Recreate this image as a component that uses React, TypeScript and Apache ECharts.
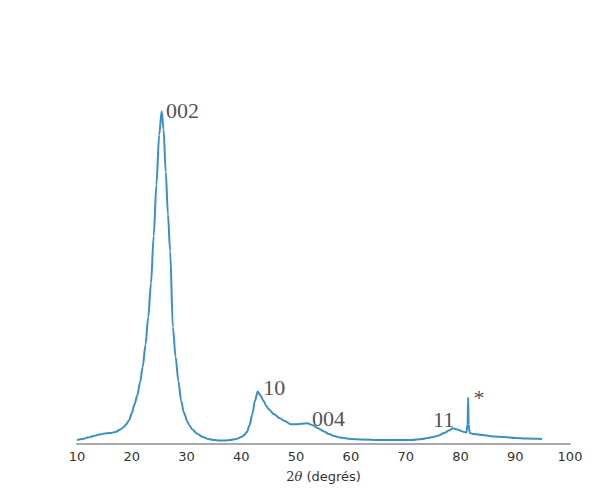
import React, { useEffect, useRef } from "react";
import * as echarts from "echarts";

// 2θ (degrees) and intensity (arbitrary units)
const twoTheta = [
  10, 11, 12, 13, 14, 15, 16, 17, 18, 18.5, 19, 19.5, 20, 20.5, 21, 21.5, 22, 22.5, 23, 23.5,
  24, 24.5, 25, 25.45, 25.8, 26.2, 26.6, 27, 27.5, 28, 28.5, 29, 29.5, 29.8, 30, 30.5, 31, 32,
  33, 34, 35, 36, 37, 38, 39, 40, 40.5, 41, 41.5, 42, 42.5, 43, 43.5, 44, 44.5, 45, 46, 47, 48,
  49, 50, 51, 52, 53, 54, 55, 56, 57, 58, 60, 62, 65, 68, 71, 73, 74, 75, 76, 77, 78, 78.6,
  79.5, 80.5, 81.1, 81.3, 81.4, 81.5, 81.7, 82.5, 84, 86, 88, 90, 92, 94.9,
];
const intensity = [
  4, 5, 6.5, 8, 9.5, 10.5, 11, 12, 15, 17, 20, 24, 31, 40, 49, 62, 78, 100, 128, 162,
  210, 262, 312, 336, 318, 275, 232, 195, 118, 88, 64, 44, 32, 28, 24, 19, 15, 10,
  7, 5, 4, 3.5, 3.5, 4, 5, 7, 9, 12, 19, 30, 44, 53, 49, 44, 39, 35, 30, 26, 23,
  20, 20, 20.5, 21, 19, 16, 13, 10, 8, 6.5, 5, 4.5, 4, 4, 4, 5, 6, 7, 8.5, 11, 14, 16,
  14.5, 12.5, 11.5, 20, 47, 20, 11, 10, 9, 7.5, 7, 6, 5.5, 5,
];

// peak annotations
const peakLabels = ["002", "10", "004", "11", "*"];
const peakX = [26.25, 44.0, 52.9, 75.0, 82.4];
const peakY = [337, 57, 26, 25, 47];

const xTicks = [10, 20, 30, 40, 50, 60, 70, 80, 90, 100];

export default function App() {
  const ref = useRef<HTMLDivElement>(null);
  useEffect(() => {
    if (!ref.current) return;
    const chart = echarts.init(ref.current, null, { renderer: "svg" });
    chart.setOption({
      animation: false,
      grid: { left: 69, right: 22, top: 40, bottom: 40 },
      xAxis: {
        type: "value",
        min: xTicks[0],
        max: xTicks[xTicks.length - 1],
        interval: 10,
        axisLine: { show: true, lineStyle: { color: "#aaaaaa", width: 2 } },
        axisTick: { show: false },
        splitLine: { show: false },
        axisLabel: {
          color: "#333333",
          fontSize: 13,
          fontFamily: "DejaVu Sans",
          margin: 6,
        },
        name: "{a|2}{b|θ} (degrés)",
        nameLocation: "middle",
        nameGap: 26,
        nameTextStyle: {
          color: "#333333",
          fontSize: 13,
          fontFamily: "DejaVu Sans",
          rich: {
            a: { fontFamily: "DejaVu Serif", fontSize: 13, color: "#333333" },
            b: { fontFamily: "DejaVu Serif", fontStyle: "italic", fontSize: 13, color: "#333333" },
          },
        },
      },
      yAxis: {
        type: "value",
        min: 0,
        max: 400,
        show: false,
        splitLine: { show: false },
      },
      series: [
        {
          type: "line",
          data: twoTheta.map((x, i) => [x, intensity[i]]),
          showSymbol: false,
          symbol: "none",
          smooth: 0.3,
          smoothMonotone: "x",
          lineStyle: { color: "#3a8fc4", width: 2 },
          z: 2,
        },
        {
          type: "scatter",
          symbolSize: 0,
          data: peakX.map((x, i) => ({ value: [x, peakY[i]], name: peakLabels[i] })),
          label: {
            show: true,
            position: "right",
            distance: 0,
            formatter: (p: any) => p.name,
            fontFamily: "Liberation Serif",
            fontSize: 22,
            color: "#222222",
          },
          silent: true,
          z: 3,
        },
      ],
    });
    return () => chart.dispose();
  }, []);
  return <div ref={ref} style={{ width: 584, height: 480 }} />;
}
